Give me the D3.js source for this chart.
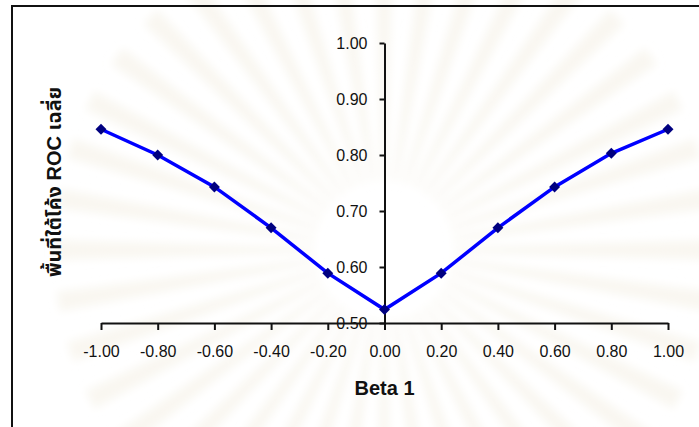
<!DOCTYPE html>
<html lang="th">
<head>
    <meta charset="UTF-8">
    <title>พื้นที่ใต้โค้ง ROC เฉลี่ย</title>
    <script src="https://d3js.org/d3.v7.min.js"></script>
    <style>
        body { margin: 0; background: #fff; font-family: Arial, "Liberation Sans", sans-serif; }
        .tick text { font-size: 16px; fill: #111; }
        .axis path, .axis line { stroke: #111; stroke-width: 2px; }
        .axis-title { font-weight: bold; fill: #111; }
    </style>
</head>
<body>
    <svg width="699" height="427"></svg>
    <script>
        // values
        const betaValues = [-1.0, -0.8, -0.6, -0.4, -0.2, 0.0, 0.2, 0.4, 0.6, 0.8, 1.0];
        const meanAUC = [0.846, 0.800, 0.743, 0.670, 0.589, 0.524, 0.589, 0.670, 0.743, 0.803, 0.846];
        const xTicks = [-1.0, -0.8, -0.6, -0.4, -0.2, 0.0, 0.2, 0.4, 0.6, 0.8, 1.0];
        const yTicks = [0.5, 0.6, 0.7, 0.8, 0.9, 1.0];

        const data = betaValues.map((b, i) => ({ beta: b, auc: meanAUC[i] }));
        const fmt = d => d.toFixed(2);

        const svg = d3.select("svg");

        // soft watermark rays behind the plot
        svg.append("defs").append("filter").attr("id", "soft")
            .append("feGaussianBlur").attr("stdDeviation", 4);
        const wm = svg.append("g").attr("filter", "url(#soft)");
        const cx = 384, cy = 250;
        d3.range(0, 360, 9).forEach((a, i) => {
            const r1 = 70, r2 = 330, w = 3.5;
            const p = [a - w / 2, a + w / 2].map(t => t * Math.PI / 180);
            wm.append("path")
                .attr("d", `M${cx + r1 * Math.cos(p[0])},${cy + r1 * Math.sin(p[0])}
                    L${cx + r2 * Math.cos(p[0])},${cy + r2 * Math.sin(p[0])}
                    L${cx + r2 * Math.cos(p[1])},${cy + r2 * Math.sin(p[1])}
                    L${cx + r1 * Math.cos(p[1])},${cy + r1 * Math.sin(p[1])}Z`)
                .attr("fill", "#f9f7f1");
        });

        // chart frame (runs off the right and bottom edges)
        svg.append("rect")
            .attr("x", 12).attr("y", 6)
            .attr("width", 720).attr("height", 450)
            .attr("fill", "none")
            .attr("stroke", "#111")
            .attr("stroke-width", 2);

        const x = d3.scaleLinear().domain([-1, 1]).range([101, 668]);
        const y = d3.scaleLinear().domain([0.5, 1.0]).range([323, 43]);

        // x axis at y = 0.50
        const xAxis = svg.append("g")
            .attr("class", "axis")
            .attr("transform", `translate(0,${y(0.5)})`)
            .call(d3.axisBottom(x).tickValues(xTicks).tickFormat(fmt)
                .tickSize(7).tickSizeOuter(0).tickPadding(10));
        xAxis.selectAll(".tick text").attr("y", 34).attr("dy", null);

        // y axis at beta = 0
        svg.append("g")
            .attr("class", "axis")
            .attr("transform", `translate(${x(0)},0)`)
            .call(d3.axisLeft(y).tickValues(yTicks).tickFormat(fmt)
                .tickSize(5).tickSizeOuter(0).tickPadding(12));

        const line = d3.line().x(d => x(d.beta)).y(d => y(d.auc));

        svg.append("path")
            .datum(data)
            .attr("fill", "none")
            .attr("stroke", "#0000ff")
            .attr("stroke-width", 3.5)
            .attr("d", line);

        svg.selectAll(".marker")
            .data(data)
            .enter()
            .append("path")
            .attr("class", "marker")
            .attr("d", d3.symbol().type(d3.symbolSquare).size(60))
            .attr("transform", d => `translate(${x(d.beta)},${y(d.auc)}) rotate(45)`)
            .attr("fill", "#000080");

        svg.append("text")
            .attr("class", "axis-title")
            .attr("x", x(0))
            .attr("y", 395)
            .attr("text-anchor", "middle")
            .attr("font-size", "20px")
            .text("Beta 1");

        svg.append("text")
            .attr("class", "axis-title")
            .attr("transform", "translate(61,182) rotate(-90)")
            .attr("text-anchor", "middle")
            .attr("font-size", "20px")
            .attr("font-family", "Arial, 'Liberation Sans', 'Noto Sans Thai', 'Noto Sans', 'DejaVu Sans', sans-serif")
            .text("พื้นที่ใต้โค้ง ROC เฉลี่ย");
    </script>
</body>
</html>
